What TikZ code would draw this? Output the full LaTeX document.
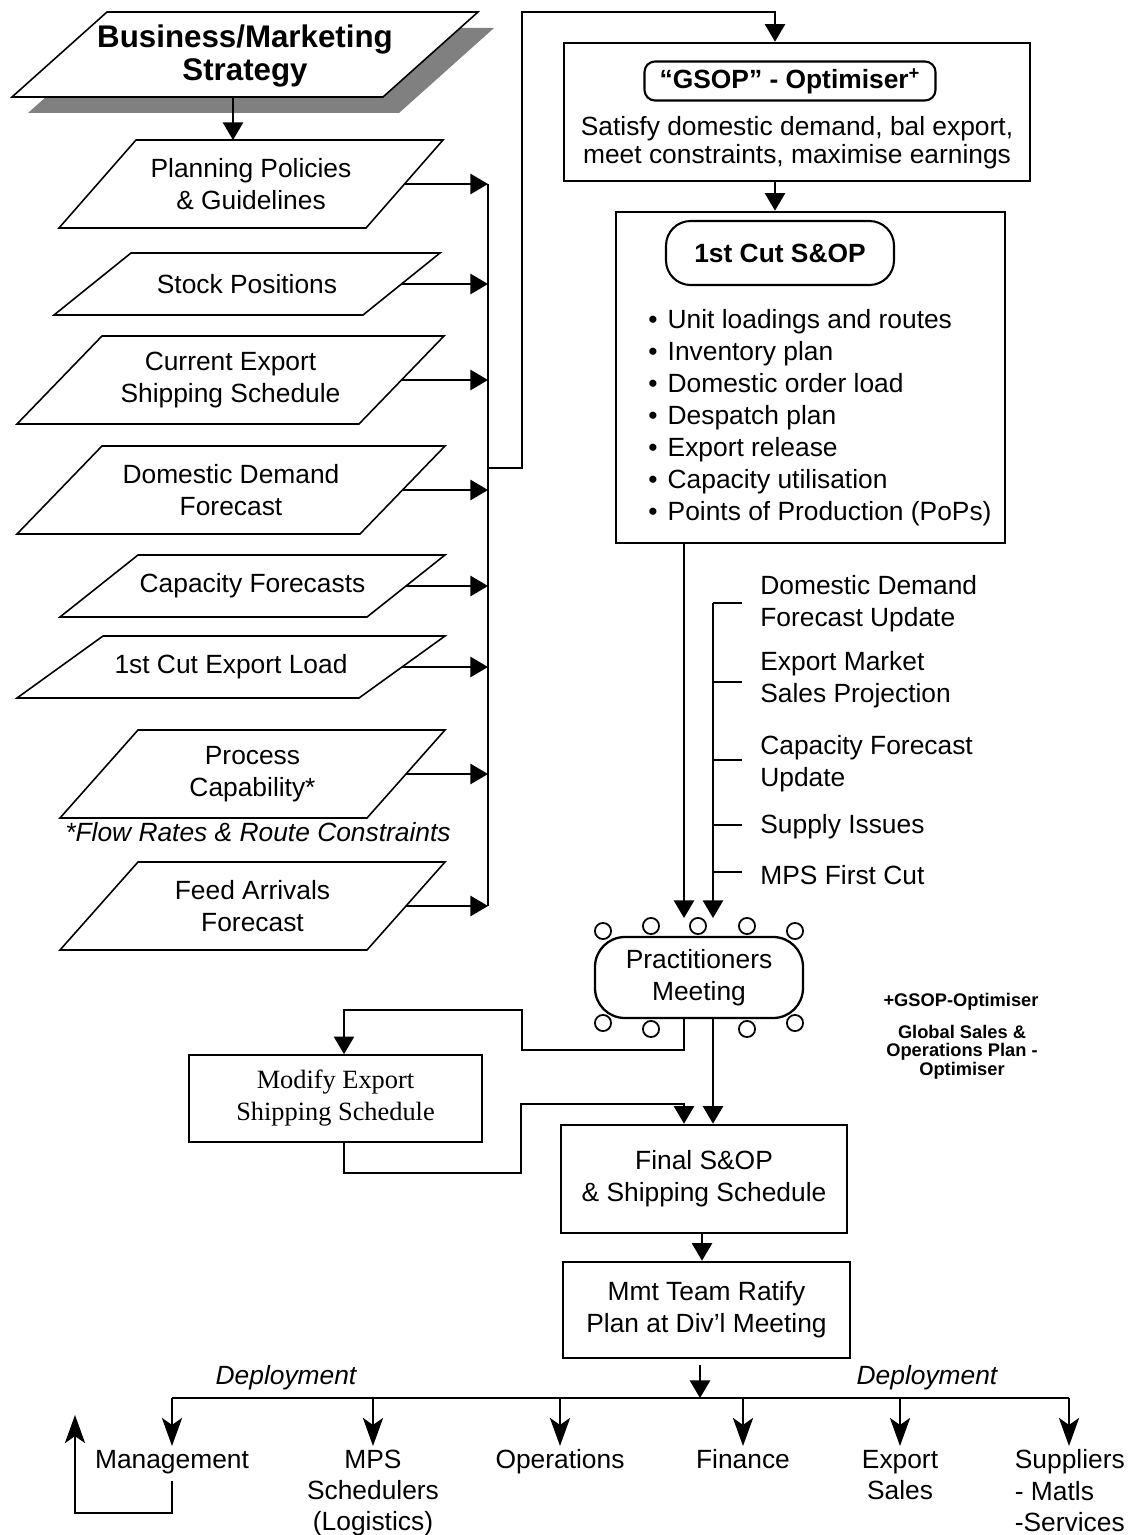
\documentclass[tikz,border=0pt]{standalone}
\usepackage{fontspec}
\setmainfont{Liberation Sans}
\newfontfamily\seriffont{Liberation Serif}
\usetikzlibrary{arrows.meta,calc}

\tikzset{
  txt/.style={font=\fontsize{15}{18.2}\selectfont, align=center, inner sep=0pt},
  sz/.style 2 args={minimum width=#1*0.569pt, minimum height=#2*0.569pt},
  line/.style={line width=1.1pt},
  pgline/.style={line width=0.9pt, line join=miter},
  arr/.style={line, -{Triangle[length=10pt,width=11.5pt]}},
  sarr/.style={line, -{Stealth[length=16pt,width=11.5pt,inset=4pt]}},
  bigbox/.style={txt, draw, line width=1.5pt},
  thinbox/.style={draw, line width=1pt, align=center, inner sep=0pt,
                  font=\seriffont\fontsize{15}{18.2}\selectfont},
  rbox/.style={txt, draw, line width=1.2pt},
  seat/.style={line width=1pt, fill=white},
  deptxt/.style={txt, anchor=north, inner sep=2pt, font=\fontsize{15}{17.8}\selectfont}
}

% parallelogram data box: name, top-left x, top-right x, top y, bottom y, slant, text
\newcommand\pgram[7]{%
  \draw[pgline] (#2,#4) -- (#3,#4) -- ({#3-#6},#5) -- ({#2-#6},#5) -- cycle;
  \node[txt] (#1) at ({(#2+#3-#6)/2},{(#4+#5)/2}) {#7};
  \coordinate (#1-top) at (#2,#4);
  \coordinate (#1-r) at ({#3-#6/2},{(#4+#5)/2});
}

\begin{document}
\begin{tikzpicture}[x=0.569pt,y=-0.569pt]
\fill[white] (0,0) rectangle (1136,1535);
\useasboundingbox (0,0) rectangle (1136,1535);

% ---------- strategy with drop shadow ----------
\fill[black!50] (123,28) -- (494,28) -- (399,113) -- (28,113) -- cycle;
\draw[pgline, fill=white] (107,12) -- (478,12) -- (383,97) -- (12,97) -- cycle;
\node[txt, font=\bfseries\fontsize{17.8}{19.3}\selectfont] (bms) at (245,56) {Business/Marketing\\Strategy};
\coordinate (bmsout) at (233,97);

% ---------- input data ----------
\pgram{plan}{136}{443}{140}{228}{77}{Planning Policies\\\& Guidelines}
\pgram{stock}{131}{440}{253}{315}{77}{Stock Positions}
\pgram{ship}{102}{444}{336}{424}{85}{Current Export\\Shipping Schedule}
\pgram{ddf}{102}{445}{446}{534}{85}{Domestic Demand\\Forecast}
\pgram{capf}{138}{445}{555}{617}{78}{Capacity Forecasts}
\pgram{cel}{103}{445}{636}{698}{86}{1st Cut Export Load}
\pgram{proc}{138}{445}{730}{818}{78}{Process\\Capability*}
\pgram{feed}{138}{445}{862}{950}{78}{Feed Arrivals\\Forecast}
\node[txt, font=\itshape\fontsize{15}{18.2}\selectfont] (note) at (258,832) {*Flow Rates \& Route Constraints};

\draw[arr] (bmsout) -- (bmsout |- plan-top);

% collecting bus
\coordinate (bus) at (488,0);
\foreach \p in {plan,stock,ship,ddf,capf,cel,proc,feed}
  \draw[arr] (\p-r) -- (\p-r -| bus);
\draw[line] (plan-r -| bus) -- (feed-r -| bus);
\coordinate (busj) at (488,468);
\coordinate (gx) at (775,0);

% ---------- optimiser ----------
\node[bigbox, sz={466}{138}] (gsop) at (797,112) {};
\node[rbox, sz={291}{39}, rounded corners=6pt, font=\bfseries\fontsize{15}{18.2}\selectfont] (gsopt) at (790,81) {``GSOP'' - Optimiser\textsuperscript{+}};
\node[txt, font=\fontsize{15}{16}\selectfont] (gsopd) at (797,143) {Satisfy domestic demand, bal export,\\meet constraints, maximise earnings};
\draw[arr] (busj) -| (522,12) -| (gsop.north -| gx);

% ---------- first cut plan ----------
\node[bigbox, sz={389}{331}] (cut) at (810.5,377.5) {};
\node[rbox, sz={228}{64}, rounded corners=14pt, font=\bfseries\fontsize{15}{18.2}\selectfont] (cutt) at (780,253) {1st Cut S\&OP};
\foreach \t [count=\i] in {Unit loadings and routes, Inventory plan, Domestic order load, Despatch plan, Export release, Capacity utilisation, Points of Production (PoPs)}
  \node[txt, anchor=base west] (item\i) at (648,{296.5+32*\i}) {\makebox[11pt][l]{\textbullet}\t};
\draw[arr] (gsop.south -| gx) -- (cut.north -| gx);

% ---------- updates feeding the meeting ----------
\coordinate (pin1) at (684,918);
\coordinate (pin2) at (713,918);
\coordinate (upd) at (713,603);
\draw[arr] (cut.south -| pin1) -- (pin1);
\draw[arr] (upd) -- (pin2);
\foreach \y in {603,682,760,825,872}
  \draw[line] (713,\y) -- (742,\y);
\node[txt, anchor=west, align=left] (u1) at (760,604) {Domestic Demand\\Forecast Update};
\node[txt, anchor=west, align=left] (u2) at (760,680) {Export Market\\Sales Projection};
\node[txt, anchor=west, align=left] (u3) at (760,764) {Capacity Forecast\\Update};
\node[txt, anchor=west, align=left] (u4) at (760,827) {Supply Issues};
\node[txt, anchor=west, align=left] (u5) at (760,875) {MPS First Cut};

% ---------- practitioners meeting ----------
\node[txt, draw, line width=1.3pt, sz={208}{81}, rounded corners=17pt] (prac) at (699,977.5) {Practitioners\\Meeting};
\foreach \x/\y in {603/931,651/926,698/926,747/926,795/931,603/1023,651/1029,747/1029,795/1023}
  \draw[seat] (\x,\y) circle[radius=4.6pt];

\node[txt, font=\bfseries\fontsize{10.4}{10.5}\selectfont] (key1) at (961,1002) {+GSOP-Optimiser};
\node[txt, font=\bfseries\fontsize{10.4}{10.6}\selectfont] (key2) at (962,1052) {Global Sales \&\\Operations Plan -\\Optimiser};

% ---------- shipping schedule loop ----------
\node[thinbox, sz={293}{87}] (mod) at (335.5,1098.5) {Modify Export\\Shipping Schedule};
\coordinate (modx) at (344,0);
\coordinate (pout1) at (684,0);
\coordinate (pout2) at (713,0);
\node[bigbox, sz={286}{108}] (fin) at (704,1179) {Final S\&OP\\\& Shipping Schedule};
\draw[arr] (prac.south -| pout1) |- (522,1050) |- (344,1010) -- (mod.north -| modx);
\draw[arr] (mod.south -| modx) |- (521,1173) |- (684,1104) -- (fin.north -| pout1);
\draw[arr] (prac.south -| pout2) -- (fin.north -| pout2);

% ---------- ratification ----------
\node[bigbox, sz={287}{96}] (mmt) at (706.5,1310) {Mmt Team Ratify\\Plan at Div'l Meeting};
\coordinate (cx) at (702,0);
\draw[arr] (fin.south -| cx) -- (mmt.north -| cx);
\coordinate (dep) at (700,1398);
\draw[arr] ([yshift=-3pt]mmt.south -| dep) -- (dep);

% ---------- deployment ----------
\node[txt] (depl) at (286,1378) {\itshape Deployment};
\node[txt] (depr) at (927,1378) {\itshape Deployment};
\node[deptxt] (mgmt) at (172,1446) {Management};
\node[deptxt] (mps) at (373,1446) {MPS\\Schedulers\\(Logistics)};
\node[deptxt] (ops) at (560,1446) {Operations};
\node[deptxt] (finc) at (743,1446) {Finance};
\node[deptxt] (exs) at (900,1446) {Export\\Sales};
\node[deptxt, anchor=north west, align=left] (sup) at (1011,1446) {Suppliers\\- Matls\\-Services};
\coordinate (supx) at (1069,0);
\draw[line] (mgmt.north |- dep) -- (supx |- dep);
\foreach \n in {mgmt,mps,ops,finc,exs}
  \draw[sarr] (\n.north |- dep) -- (\n.north);
\draw[sarr] (supx |- dep) -- (sup.north -| supx);
\coordinate (fb) at (75,1415);
\draw[sarr] ([yshift=-2pt]mgmt.south) |- (75,1513) -- (fb);

\end{tikzpicture}
\end{document}
